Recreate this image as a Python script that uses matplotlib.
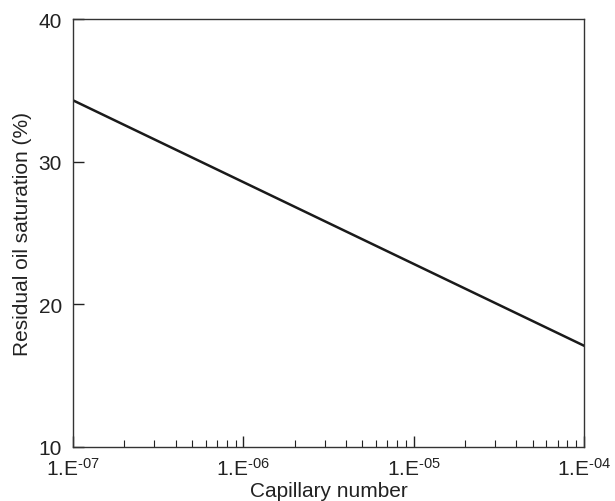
import matplotlib
matplotlib.use("Agg")
import matplotlib.pyplot as plt
from matplotlib.ticker import FixedLocator, LogLocator, NullFormatter

plt.rcParams['font.family'] = ['Liberation Sans', 'DejaVu Sans']
plt.rcParams['mathtext.fontset'] = 'custom'
plt.rcParams['mathtext.rm'] = 'Liberation Sans'
plt.rcParams['mathtext.it'] = 'Liberation Sans'
plt.rcParams['axes.unicode_minus'] = False

# residual oil saturation vs capillary number (straight line on log x)
cap_number = [1e-7, 1e-4]
resid_oil = [34.3, 17.1]

x_ticks = [1e-7, 1e-6, 1e-5, 1e-4]
x_labels = ['1.E$^{\u2010\\mathregular{07}}$', '1.E$^{\u2010\\mathregular{06}}$',
            '1.E$^{\u2010\\mathregular{05}}$', '1.E$^{\u2010\\mathregular{04}}$']
y_ticks = [10, 20, 30, 40]

fig = plt.figure(figsize=(6.15, 5.02), dpi=100)
ax = fig.add_axes([73/615, 54/502, 511/615, 428/502])

ax.plot(cap_number, resid_oil, color='#1a1a1a', lw=1.8)

ax.set_xscale('log')
ax.set_xlim(1e-7, 1e-4)
ax.set_ylim(10, 40)

ax.xaxis.set_major_locator(FixedLocator(x_ticks))
ax.set_xticklabels(x_labels)
ax.xaxis.set_minor_locator(LogLocator(base=10, subs=range(2, 10)))
ax.xaxis.set_minor_formatter(NullFormatter())
ax.set_yticks(y_ticks)

ax.tick_params(axis='both', which='major', direction='in', length=8, width=1,
               labelsize=15, colors='#222222')
ax.tick_params(axis='x', which='minor', direction='in', length=5, width=0.8,
               colors='#222222')
ax.tick_params(axis='x', which='major', pad=7)
ax.tick_params(axis='y', which='major', pad=8)

for s in ax.spines.values():
    s.set_color('#333333')
    s.set_linewidth(1)

ax.set_xlabel('Capillary number', fontsize=15, color='#222222', labelpad=2)
ax.set_ylabel('Residual oil saturation (%)', fontsize=15, color='#222222', labelpad=5)

fig.savefig('out.png', dpi=100)
